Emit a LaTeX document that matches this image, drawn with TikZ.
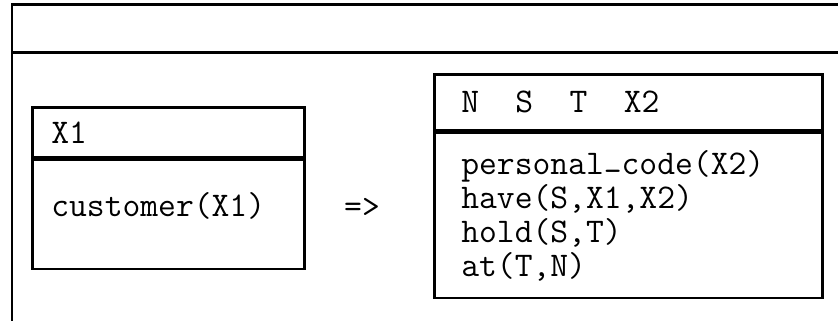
\documentclass[tikz,border=0pt]{standalone}
\usetikzlibrary{positioning}
\def\Mono{\ttfamily\fontsize{34.6}{34}\selectfont}
\def\Gap{\hspace*{1.05em}}% two character cells
\def\Under{\raisebox{0.25em}{\_}}

\begin{document}
\begin{tikzpicture}[x=1pt,y=-1pt,% pixel-like units, y grows downwards
      every node/.style={
        align=left,     % use this so that the "\\" for line break works
        inner ysep=2pt,
        font=\Mono
      },
      part/.style={rectangle,draw=black,line width=2.6pt,fill=white},
      frame/.style={line width=2.6pt}
    ]
    \useasboundingbox (0,0) rectangle (838,321);
    \clip (0,0) rectangle (838,321);
    \draw[frame] (12,340) |- (860,4.3);
    \draw[frame] (12,52.3) -- (860,52.3);
    \node[part,anchor=north west,minimum width=272pt,minimum height=50pt,text width=234pt,inner xsep=19pt](H1) at (31,106){X1};
    \node[part,minimum width=272pt,minimum height=109pt,text width=234pt,inner xsep=19pt,text depth=20pt](B1)[below=0pt of H1]{customer(X1)};
    \node[part,anchor=north west,minimum width=388pt,minimum height=56pt,text width=334pt,inner xsep=27pt](H2) at (433,73){N\Gap S\Gap T\Gap X2};
    \node[part,minimum width=388pt,minimum height=165pt,text width=334pt,inner xsep=27pt](B2)[below=0pt of H2]{personal\Under code(X2)\\have(S,X1,X2)\\hold(S,T)\\at(T,N)};
    \node(IMP) at (362,208){=>};
  \end{tikzpicture}
\end{document}
